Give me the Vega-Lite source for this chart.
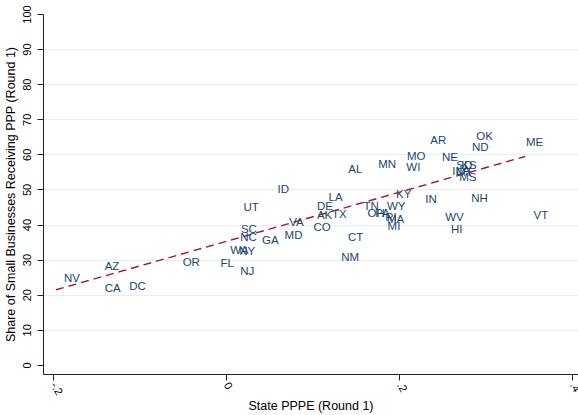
{
  "$schema": "https://vega.github.io/schema/vega-lite/v6.json",
  "autosize": "none",
  "width": 535,
  "height": 360,
  "padding": {"left": 43, "top": 14, "right": 0, "bottom": 41},
  "background": "white",
  "config": {
    "view": {"stroke": null},
    "axis": {
      "labelFont": "Liberation Sans",
      "titleFont": "Liberation Sans",
      "labelFontSize": 11,
      "titleFontSize": 12.5,
      "titleFontWeight": "normal",
      "labelColor": "#000000",
      "titleColor": "#000000",
      "domainColor": "#222222",
      "tickColor": "#222222",
      "tickSize": 6
    }
  },
  "encoding": {
    "x": {
      "field": "pppe",
      "type": "quantitative",
      "scale": {"domain": [-0.211, 0.407], "nice": false, "zero": false},
      "axis": {
        "title": "State PPPE (Round 1)",
        "values": [-0.2, 0, 0.2, 0.4],
        "grid": false,
        "labelAngle": 60,
        "labelPadding": 3,
        "labelExpr": "datum.value == 0 ? '0' : (datum.value < 0 ? '-' : '') + '.' + toString(round(abs(datum.value) * 10))",
        "titlePadding": 3
      }
    },
    "y": {
      "field": "share",
      "type": "quantitative",
      "scale": {"domain": [-2.6, 100], "nice": false, "zero": false},
      "axis": {
        "title": "Share of Small Businesses Receiving PPP (Round 1)",
        "values": [0, 10, 20, 30, 40, 50, 60, 70, 80, 90, 100],
        "labelAngle": -90,
        "labelAlign": "center",
        "labelBaseline": "bottom",
        "labelPadding": 5,
        "titlePadding": 4,
        "grid": true,
        "gridColor": {
          "condition": {"test": "datum.value == 0 || datum.value == 100", "value": "transparent"},
          "value": "#e6efef"
        },
        "gridWidth": 1
      }
    }
  },
  "layer": [
    {
      "data": {
        "values": [
          {"pppe": -0.196, "share": 21.4},
          {"pppe": 0.346, "share": 59.4}
        ]
      },
      "mark": {"type": "line", "color": "#a0163e", "strokeDash": [8, 5], "strokeWidth": 1.4}
    },
    {
      "data": {
        "values": [
          {"state": "NV", "pppe": -0.196, "share": 24.5},
          {"state": "AZ", "pppe": -0.149, "share": 27.9},
          {"state": "CA", "pppe": -0.149, "share": 21.6},
          {"state": "DC", "pppe": -0.1206, "share": 22.1},
          {"state": "OR", "pppe": -0.0589, "share": 29.1},
          {"state": "FL", "pppe": -0.0151, "share": 28.8},
          {"state": "WA", "pppe": -0.0039, "share": 32.5},
          {"state": "NY", "pppe": 0.0065, "share": 32.2},
          {"state": "NJ", "pppe": 0.0076, "share": 26.6},
          {"state": "SC", "pppe": 0.0084, "share": 38.5},
          {"state": "NC", "pppe": 0.0076, "share": 36.3},
          {"state": "UT", "pppe": 0.0114, "share": 44.6},
          {"state": "GA", "pppe": 0.0327, "share": 35.3},
          {"state": "ID", "pppe": 0.0507, "share": 49.7},
          {"state": "VA", "pppe": 0.0642, "share": 40.4},
          {"state": "MD", "pppe": 0.0588, "share": 36.8},
          {"state": "DE", "pppe": 0.0962, "share": 45.1},
          {"state": "LA", "pppe": 0.1096, "share": 47.7},
          {"state": "AK", "pppe": 0.0962, "share": 42.3},
          {"state": "TX", "pppe": 0.1135, "share": 42.7},
          {"state": "CO", "pppe": 0.0923, "share": 39.1},
          {"state": "CT", "pppe": 0.132, "share": 36.1},
          {"state": "NM", "pppe": 0.1243, "share": 30.4},
          {"state": "AL", "pppe": 0.1324, "share": 55.6},
          {"state": "MN", "pppe": 0.167, "share": 57.0},
          {"state": "WI", "pppe": 0.1994, "share": 56.2},
          {"state": "MO", "pppe": 0.2002, "share": 59.3},
          {"state": "AR", "pppe": 0.2271, "share": 63.9},
          {"state": "NE", "pppe": 0.2406, "share": 59.1},
          {"state": "OK", "pppe": 0.2802, "share": 65.0},
          {"state": "ND", "pppe": 0.2753, "share": 61.9},
          {"state": "ME", "pppe": 0.3377, "share": 63.3},
          {"state": "KY", "pppe": 0.1875, "share": 48.4},
          {"state": "IN", "pppe": 0.2213, "share": 47.0},
          {"state": "NH", "pppe": 0.2745, "share": 47.3},
          {"state": "WV", "pppe": 0.2444, "share": 41.8},
          {"state": "HI", "pppe": 0.251, "share": 38.5},
          {"state": "VT", "pppe": 0.3464, "share": 42.3},
          {"state": "TN", "pppe": 0.150, "share": 44.9},
          {"state": "OH", "pppe": 0.1547, "share": 43.0},
          {"state": "PA", "pppe": 0.1636, "share": 43.0},
          {"state": "WY", "pppe": 0.1771, "share": 44.9},
          {"state": "MA", "pppe": 0.1771, "share": 41.3},
          {"state": "MI", "pppe": 0.1778, "share": 39.2},
          {"state": "RI", "pppe": 0.1751, "share": 41.9},
          {"state": "SD", "pppe": 0.2571, "share": 56.7},
          {"state": "KS", "pppe": 0.2629, "share": 56.7},
          {"state": "IL", "pppe": 0.2525, "share": 55.0},
          {"state": "MT", "pppe": 0.2571, "share": 54.7},
          {"state": "IA", "pppe": 0.2606, "share": 55.3},
          {"state": "MS", "pppe": 0.2606, "share": 53.3}
        ]
      },
      "mark": {
        "type": "text",
        "align": "left",
        "baseline": "middle",
        "dx": 8,
        "font": "Liberation Sans",
        "fontSize": 11.5,
        "color": "#1a476f"
      },
      "encoding": {"text": {"field": "state", "type": "nominal"}}
    }
  ]
}
